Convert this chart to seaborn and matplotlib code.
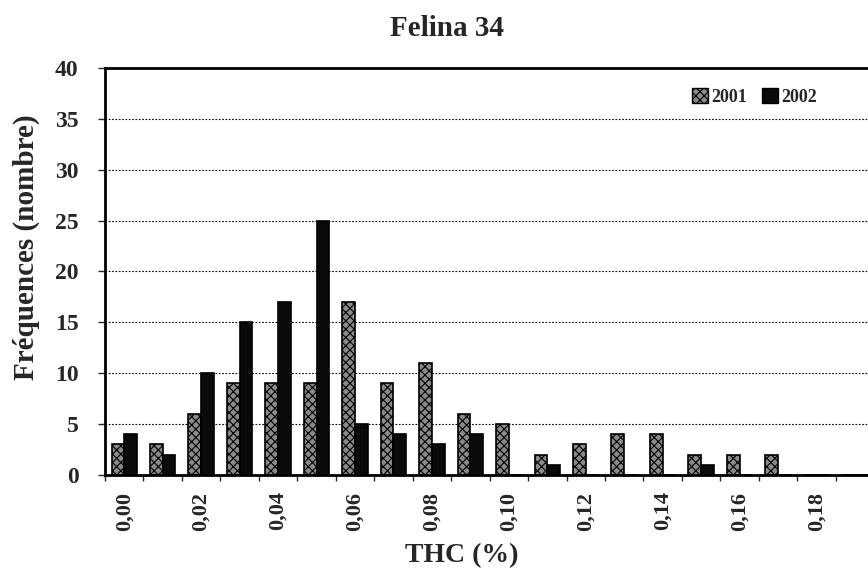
import numpy as np
import pandas as pd
import matplotlib
matplotlib.use("Agg")
import matplotlib.pyplot as plt
import matplotlib.patches as mpatches
from matplotlib.ticker import FixedLocator
import seaborn as sns

# THC classes (%) and frequencies
thc = ["0,00", "0,01", "0,02", "0,03", "0,04", "0,05", "0,06", "0,07", "0,08", "0,09",
       "0,10", "0,11", "0,12", "0,13", "0,14", "0,15", "0,16", "0,17", "0,18", "0,19"]
freq_2001 = [3, 3, 6, 9, 9, 9, 17, 9, 11, 6, 5, 2, 3, 4, 4, 2, 2, 2, 0, 0]
freq_2002 = [4, 2, 10, 15, 17, 25, 5, 4, 3, 4, 0, 1, 0, 0, 0, 1, 0, 0, 0, 0]
years = ["2001", "2002"]
y_ticks = [0, 5, 10, 15, 20, 25, 30, 35, 40]

df = pd.DataFrame({
    "THC": thc * 2,
    "Année": [years[0]] * len(thc) + [years[1]] * len(thc),
    "Fréquence": freq_2001 + freq_2002,
})

sns.set_style("white")
plt.rcParams["font.family"] = ["Liberation Serif", "DejaVu Serif"]
plt.rcParams["font.weight"] = "bold"
plt.rcParams["hatch.linewidth"] = 0.8

fig = plt.figure(figsize=(8.68, 5.75), dpi=100)
ax = fig.add_axes([0.121, 0.174, 0.879, 0.708])

sns.barplot(data=df, x="THC", y="Fréquence", hue="Année", order=thc, hue_order=years,
            palette={"2001": "#8a8a8a", "2002": "#0a0a0a"}, width=0.66,
            edgecolor="black", linewidth=1.2, saturation=1, legend=False, ax=ax)

for p in ax.containers[0].patches:
    p.set_hatch("xxxx")

ax.set_ylim(0, 40)
ax.set_xlim(-0.5, 19.34)
ax.set_yticks(y_ticks)
ax.set_yticklabels([str(v) for v in y_ticks], fontsize=17, fontweight="bold")

# labels every second class, ticks at class boundaries
major = list(range(0, len(thc), 2))
ax.xaxis.set_major_locator(FixedLocator(major))
ax.set_xticklabels([thc[i] for i in major], rotation=90, fontsize=16, fontweight="bold")
ax.xaxis.set_minor_locator(FixedLocator(np.arange(-0.5, len(thc), 1.0)))
ax.tick_params(axis="x", which="major", length=0, pad=12)
ax.tick_params(axis="x", which="minor", length=4, width=1, direction="out", bottom=True)
ax.tick_params(axis="y", length=5, width=1, direction="out", left=True, pad=14)

ax.yaxis.grid(True, linestyle=(0, (1.5, 1.5)), color="black", linewidth=0.8)
ax.set_axisbelow(True)
ax.set_xlabel("")
ax.set_ylabel("")

for side in ["left", "bottom", "top"]:
    ax.spines[side].set_color("black")
    ax.spines[side].set_linewidth(2)
ax.spines["right"].set_visible(False)

handles = [mpatches.Patch(facecolor="#8a8a8a", edgecolor="black", hatch="xxxx", label="2001"),
           mpatches.Patch(facecolor="#0a0a0a", edgecolor="black", label="2002")]
ax.legend(handles=handles, loc="upper right", bbox_to_anchor=(0.955, 0.99), ncol=2,
          frameon=False, fontsize=13, handlelength=0.9, handleheight=0.9,
          handletextpad=0.2, columnspacing=0.8)

fig.text(447 / 868, 1 - 28 / 575, "Felina 34", ha="center", va="center",
         fontsize=21, fontweight="bold")
fig.text(26 / 868, 1 - 247 / 575, "Fréquences (nombre)", ha="center", va="center",
         rotation=90, fontsize=21, fontweight="bold")
fig.text(462 / 868, 1 - 556 / 575, "THC (%)", ha="center", va="center",
         fontsize=20, fontweight="bold")

fig.savefig("out.png", dpi=100)
